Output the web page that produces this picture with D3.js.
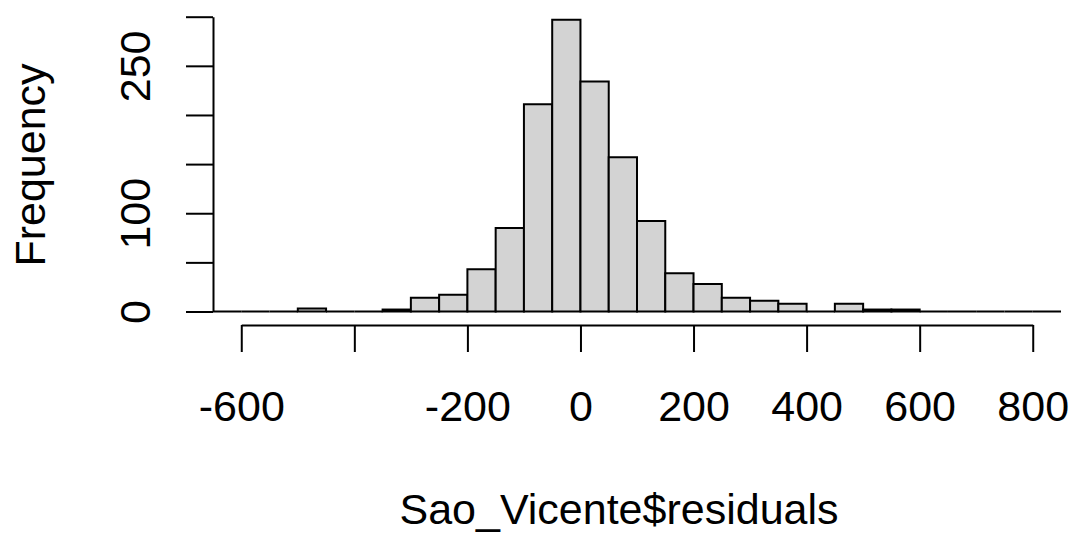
<!DOCTYPE html>
<html>
<head>
<meta charset="utf-8">
<script src="https://cdn.jsdelivr.net/npm/d3@7"></script>
<style>
  body { margin: 0; background: #fff; }
  text { font-family: "Liberation Sans", Arial, sans-serif; fill: #000; }
</style>
</head>
<body>
<svg id="viz"></svg>
<script>
// Data: histogram bins of width 50 (left edges) and their counts
const binStarts = [-650, -600, -550, -500, -450, -400, -350, -300, -250, -200,
                   -150, -100, -50, 0, 50, 100, 150, 200, 250, 300,
                   350, 400, 450, 500, 550, 600, 650, 700, 750, 800]
const counts = [0, 0, 0, 3, 0, 0, 2, 14, 17, 43,
                85, 211, 297, 234, 157, 92, 39, 28, 14, 11,
                8, 0, 8, 2, 2, 0, 0, 0, 0, 0]
const binWidth = 50

// Tick labels
const xTicks = [-600, -400, -200, 0, 200, 400, 600, 800]
const xTickLabels = ["-600", "", "-200", "0", "200", "400", "600", "800"]
const yTicks = [0, 50, 100, 150, 200, 250, 300]
const yTickLabels = ["0", "", "100", "", "", "250", ""]

const xTitle = "Sao_Vicente$residuals"
const yTitle = "Frequency"

// Size
const width = 1071,
    height = 538
const fontSize = 43

const svg = d3.select("#viz")
    .attr("width", width)
    .attr("height", height)

svg.append("rect").attr("width", width).attr("height", height).attr("fill", "#fff")

// Scales
const x = d3.scaleLinear()
    .domain([-650, 850])
    .range([213, 1061])

const y = d3.scaleLinear()
    .domain([0, 300])
    .range([311.5, 16.7])

const yAxisX = 213
const xAxisY = 325

// Bars (drawn as paths so empty bins still show their bottom edge)
const bins = binStarts.map((b, i) => ({ x0: b, x1: b + binWidth, n: counts[i] }))

svg.append("g").attr("class", "bars")
    .selectAll("path")
    .data(bins)
    .join("path")
    .attr("d", d => `M${x(d.x0)},${y(0)}H${x(d.x1)}V${y(d.n)}H${x(d.x0)}Z`)
    .attr("fill", "#d3d3d3")
    .attr("stroke", "#000")
    .attr("stroke-width", 2)

// x axis (R style: line from first to last tick)
const xAxisScale = d3.scaleLinear()
    .domain([xTicks[0], xTicks[xTicks.length - 1]])
    .range([x(xTicks[0]), x(xTicks[xTicks.length - 1])])

const xAxis = svg.append("g")
    .attr("transform", `translate(0,${xAxisY})`)
    .call(d3.axisBottom(xAxisScale)
        .tickValues(xTicks)
        .tickSize(27)
        .tickSizeOuter(0)
        .tickFormat((d, i) => xTickLabels[i]))
xAxis.selectAll("path, line").attr("stroke", "#000").attr("stroke-width", 2)
xAxis.selectAll("text")
    .attr("font-size", fontSize)
    .attr("font-family", null)
    .attr("y", 0)
    .attr("dy", null)
    .attr("transform", "translate(0,96)")

// y axis
const yAxisScale = d3.scaleLinear()
    .domain([yTicks[0], yTicks[yTicks.length - 1]])
    .range([y(yTicks[0]), y(yTicks[yTicks.length - 1])])

const yAxis = svg.append("g")
    .attr("transform", `translate(${yAxisX},0)`)
    .call(d3.axisLeft(yAxisScale)
        .tickValues(yTicks)
        .tickSize(27)
        .tickSizeOuter(0)
        .tickFormat((d, i) => yTickLabels[i]))
yAxis.selectAll("path, line").attr("stroke", "#000").attr("stroke-width", 2)
yAxis.selectAll("text")
    .attr("font-size", fontSize)
    .attr("font-family", null)
    .attr("x", 0)
    .attr("dy", null)
    .attr("text-anchor", "middle")
    .attr("transform", "translate(-63,0) rotate(-90)")

// axis titles
svg.append("text")
    .attr("x", 619)
    .attr("y", 524)
    .attr("text-anchor", "middle")
    .attr("font-size", fontSize)
    .text(xTitle)

svg.append("text")
    .attr("transform", "translate(45,165) rotate(-90)")
    .attr("text-anchor", "middle")
    .attr("font-size", fontSize)
    .text(yTitle)
</script>
</body>
</html>
